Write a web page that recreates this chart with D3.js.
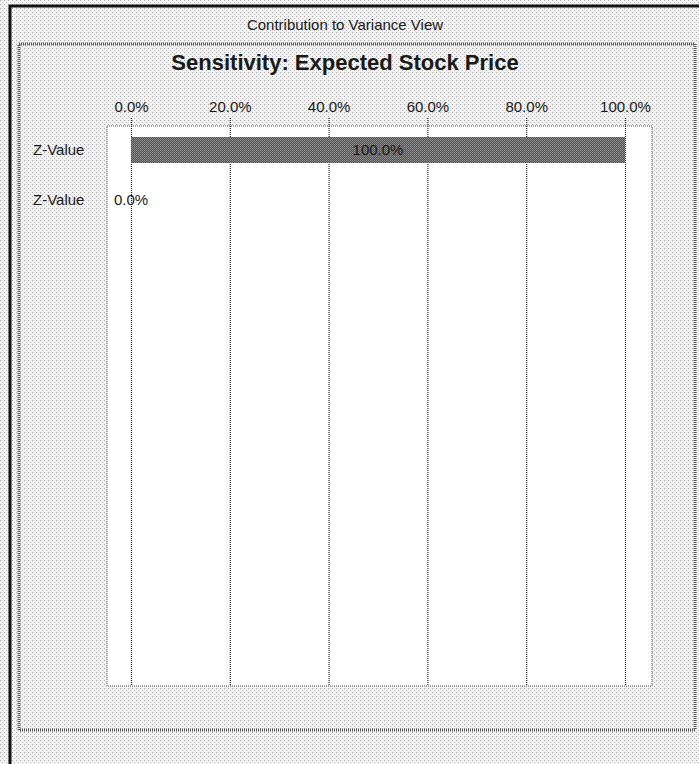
<!DOCTYPE html>
<meta charset="utf-8">
<style>
    body { margin: 0; background: #fff; }
    text { font-family: "Liberation Sans", Arial, sans-serif; fill: #1a1a1a; }
    .grid line { stroke: #222; stroke-dasharray: 1,1; stroke-width: 1.2; }
    .grid .domain { display: none; }
</style>
<svg width="699" height="764"></svg>
<script src="https://cdn.jsdelivr.net/npm/d3@7"></script>
<script>

// data
var categories = ["Z-Value", "Z-Value"];     // one row per input
var contributions = [1.0, 0.0];              // share of variance
var xTicks = [0, 0.2, 0.4, 0.6, 0.8, 1.0];   // axis labels along the top

var svg = d3.select("svg"),
    W = +svg.attr("width"),
    H = +svg.attr("height");

// dithered scan look: light grey with dots
var defs = svg.append("defs");
var pat = defs.append("pattern").attr("id", "dither")
    .attr("width", 4).attr("height", 4).attr("patternUnits", "userSpaceOnUse");
pat.append("rect").attr("width", 4).attr("height", 4).attr("fill", "#f2f2f2");
pat.append("rect").attr("x", 0).attr("y", 0).attr("width", 1).attr("height", 1).attr("fill", "#a8a8a8");
pat.append("rect").attr("x", 2).attr("y", 2).attr("width", 1).attr("height", 1).attr("fill", "#bdbdbd");

var barPat = defs.append("pattern").attr("id", "barDither")
    .attr("width", 2).attr("height", 2).attr("patternUnits", "userSpaceOnUse");
barPat.append("rect").attr("width", 2).attr("height", 2).attr("fill", "#505050");
barPat.append("rect").attr("width", 1).attr("height", 1).attr("fill", "#959595");
barPat.append("rect").attr("x", 1).attr("y", 1).attr("width", 1).attr("height", 1).attr("fill", "#848484");

svg.append("rect").attr("width", W).attr("height", H).attr("fill", "url(#dither)");

// outer window frame
svg.append("path")
    .attr("d", "M10," + H + "V6H" + W)
    .attr("fill", "none").attr("stroke", "#111").attr("stroke-width", 3);

svg.append("text")
    .attr("x", 345).attr("y", 30)
    .attr("text-anchor", "middle")
    .style("font-size", "15px")
    .text("Contribution to Variance View");

// inner chart panel
svg.append("rect")
    .attr("x", 19).attr("y", 44).attr("width", 676).attr("height", 686)
    .attr("fill", "none").attr("stroke", "#555").attr("stroke-width", 3)
    .attr("stroke-dasharray", "1,1");

svg.append("text")
    .attr("x", 345).attr("y", 70)
    .attr("text-anchor", "middle")
    .style("font-size", "22px").style("font-weight", "bold")
    .text("Sensitivity: Expected Stock Price");

var plot = {left: 107, right: 652, top: 126, bottom: 686};

svg.append("rect")
    .attr("x", plot.left).attr("y", plot.top)
    .attr("width", plot.right - plot.left).attr("height", plot.bottom - plot.top)
    .attr("fill", "#fff").attr("stroke", "#555").attr("stroke-dasharray", "1,1");

var x = d3.scaleLinear().domain([0, 1]).range([131, 625]);

var y = d3.scaleBand()
    .domain(d3.range(categories.length))
    .range([125, 125 + 50 * categories.length])
    .paddingInner(0.48).paddingOuter(0.24);

// gridlines + top labels
var gridTop = 118;
svg.append("g")
    .attr("class", "grid")
    .attr("transform", "translate(0," + gridTop + ")")
    .call(d3.axisTop(x)
        .tickValues(xTicks)
        .tickFormat(d3.format(".1%"))
        .tickSizeInner(-(plot.bottom - gridTop))
        .tickSizeOuter(0)
        .tickPadding(6))
    .selectAll("text")
    .style("font-size", "15px")
    .attr("fill", "#222");

// bars
svg.selectAll(".bar")
    .data(contributions)
    .enter().append("rect")
    .attr("class", "bar")
    .attr("x", x(0))
    .attr("y", function(d, i) { return y(i); })
    .attr("width", function(d) { return x(d) - x(0); })
    .attr("height", y.bandwidth())
    .attr("fill", "url(#barDither)");

// value labels centred on each bar
svg.selectAll(".val")
    .data(contributions)
    .enter().append("text")
    .attr("class", "val")
    .attr("x", function(d) { return (x(d) + x(0)) / 2; })
    .attr("y", function(d, i) { return y(i) + y.bandwidth() / 2; })
    .attr("dy", "0.35em")
    .attr("text-anchor", "middle")
    .style("font-size", "15px")
    .text(function(d) { return d3.format(".1%")(d); });

// row names on the left
svg.selectAll(".cat")
    .data(categories)
    .enter().append("text")
    .attr("class", "cat")
    .attr("x", 33)
    .attr("y", function(d, i) { return y(i) + y.bandwidth() / 2; })
    .attr("dy", "0.35em")
    .style("font-size", "15px")
    .text(function(d) { return d; });

</script>
